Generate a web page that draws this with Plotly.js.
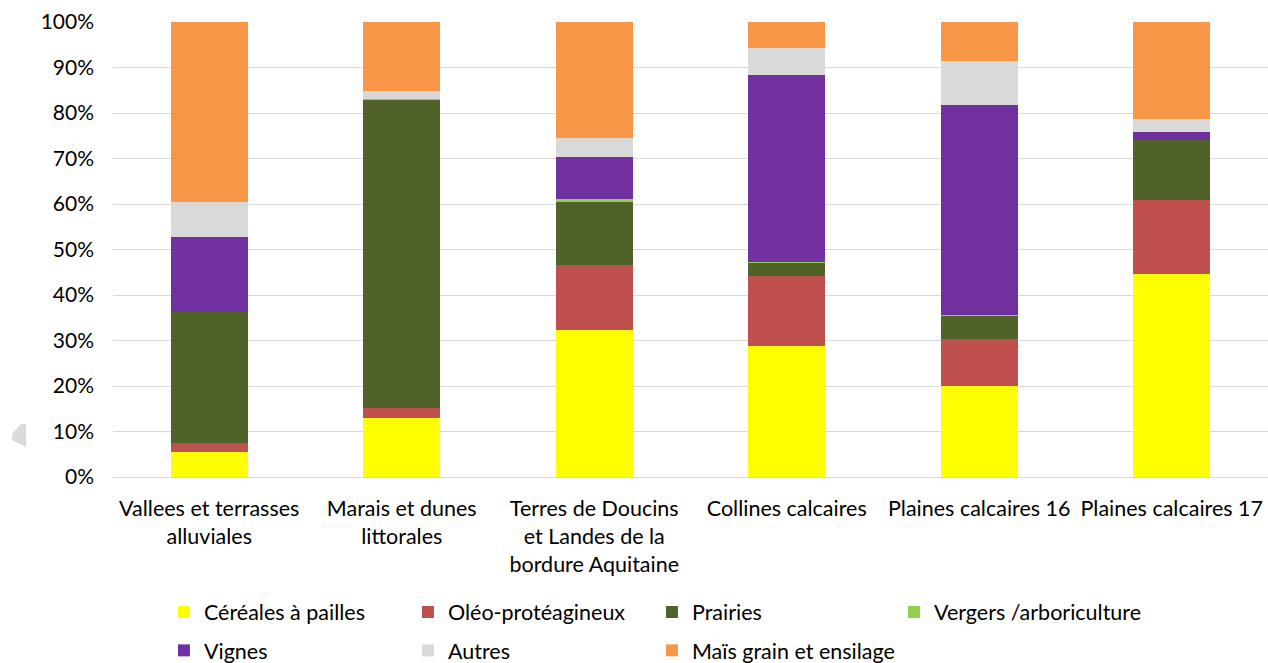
<!DOCTYPE html>
<html>
<head>
<meta charset="utf-8">
<script src="https://cdn.plot.ly/plotly-3.0.1.min.js"></script>
<style>html,body{margin:0;padding:0;background:#fff;}#chart{width:1268px;height:663px;}</style>
</head>
<body>
<div id="chart"></div>
<script>
const categories = [
  "Vallees et terrasses<br>alluviales",
  "Marais et dunes<br>littorales",
  "Terres de Doucins<br>et Landes de la<br>bordure Aquitaine",
  "Collines calcaires",
  "Plaines calcaires 16",
  "Plaines calcaires 17"
];
const seriesNames = ["Céréales à pailles","Oléo-protéagineux","Prairies","Vergers /arboriculture","Vignes","Autres","Maïs grain et ensilage"];
const cereales  = [5.4, 13.0, 32.2, 28.7, 19.9, 44.7];
const oleo      = [2.1, 2.1, 14.3, 15.4, 10.4, 16.1];
const prairies  = [28.9, 67.8, 14.1, 3.0, 5.1, 13.3];
const vergers   = [0.0, 0.2, 0.4, 0.1, 0.2, 0.0];
const vignes    = [16.4, 0.0, 9.4, 41.2, 46.2, 1.7];
const autres    = [7.7, 1.7, 4.2, 5.8, 9.6, 2.9];
const mais      = [39.5, 15.2, 25.4, 5.8, 8.6, 21.3];
const colors = ["#FFFF00","#C0504D","#4F6228","#92D050","#7030A0","#D9D9D9","#F79646"];
const seriesValues = [cereales, oleo, prairies, vergers, vignes, autres, mais];
const legendOf = ["legend","legend","legend","legend3","legend2","legend2","legend2"];

const traces = seriesValues.map((vals, i) => ({
  type: "bar",
  name: seriesNames[i],
  x: categories,
  y: vals.map(v => v / 100),
  marker: {color: colors[i], line: {width: 0}},
  legend: legendOf[i],
  hovertemplate: "%{x}<br>" + seriesNames[i] + ": %{y:.1%}<extra></extra>"
}));

const font = {family: "Lato, 'Open Sans', sans-serif", size: 21.5, color: "#000"};
const yfont = {family: "Lato, 'Open Sans', sans-serif", size: 21, color: "#000"};
const legendCommon = {
  orientation: "h",
  xref: "container", yref: "container",
  xanchor: "left", yanchor: "middle",
  font: font,
  entrywidth: 199,
  entrywidthmode: "pixels",
  itemwidth: 30,
  bgcolor: "rgba(0,0,0,0)",
  traceorder: "normal"
};

// small grey scroll-arrow decoration at the left edge (pixel outline converted to paper coords)
const W = 1268, H = 663, ML = 113, MT = 22, MB = 186;
const PW = W - ML, PH = H - MT - MB;
const px = v => (v - ML) / PW, py = v => (H - MB - v) / PH;
const arrowPath = "M " + px(26) + "," + py(424) + " L " + px(21) + "," + py(424) +
  " L " + px(12) + "," + py(434) + " L " + px(12) + "," + py(440) +
  " L " + px(26) + "," + py(447) + " Z";

const layout = {
  width: W, height: H,
  margin: {l: ML, r: 0, t: MT, b: MB},
  paper_bgcolor: "#fff", plot_bgcolor: "#fff",
  font: font,
  barmode: "stack",
  bargap: 0.6,
  showlegend: true,
  xaxis: {
    type: "category",
    showgrid: false,
    showline: true, linecolor: "#D9D9D9", linewidth: 1,
    ticks: "", tickfont: font,
    ticklabelstandoff: 12,
    automargin: false
  },
  yaxis: {
    range: [0, 1],
    tickformat: ".0%",
    dtick: 0.1,
    showgrid: true, gridcolor: "#D9D9D9", gridwidth: 1,
    zeroline: false,
    showline: false,
    ticks: "", tickfont: yfont,
    ticklabelstandoff: 18,
    automargin: false
  },
  shapes: [{type: "path", xref: "paper", yref: "paper", path: arrowPath,
            fillcolor: "#DADADA", line: {width: 0}, layer: "above"}],
  legend: Object.assign({}, legendCommon, {x: 0.1293, y: 0.077}),
  legend2: Object.assign({}, legendCommon, {x: 0.1293, y: 0.019}),
  legend3: Object.assign({}, legendCommon, {x: 0.705, y: 0.077, entrywidth: 260})
};

Plotly.newPlot("chart", traces, layout, {displayModeBar: false, responsive: false});
</script>
</body>
</html>
